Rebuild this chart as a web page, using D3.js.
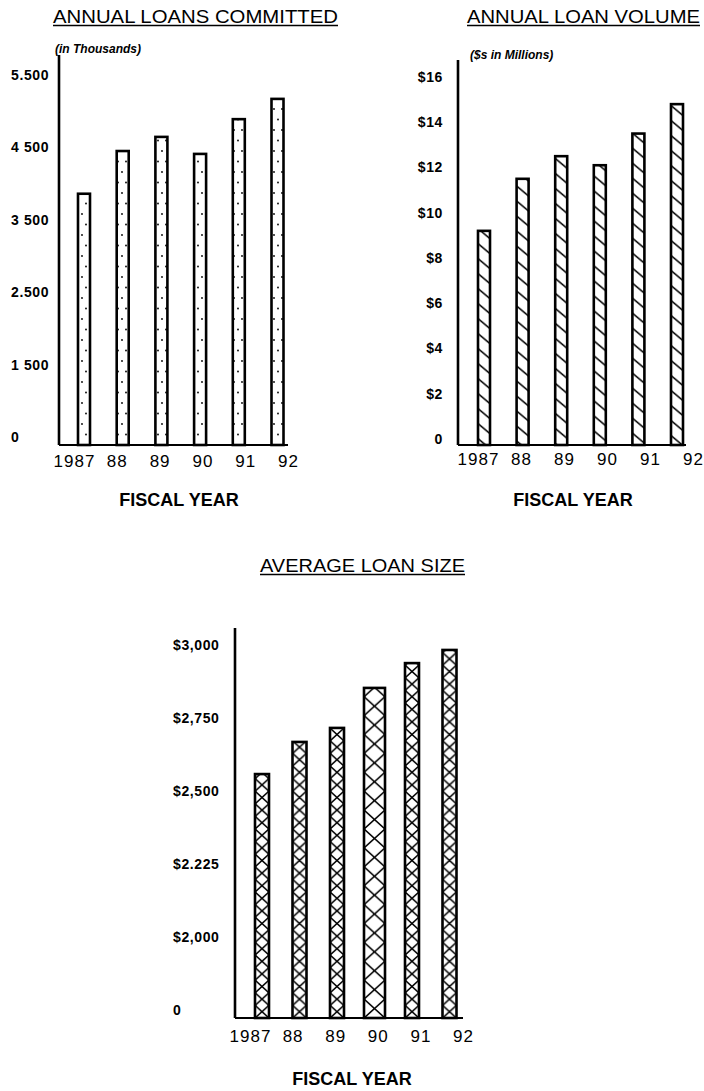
<!DOCTYPE html>
<html>
<head>
<meta charset="utf-8">
<script src="https://cdn.jsdelivr.net/npm/d3@7"></script>
<style>
  body { margin: 0; background: #fff; }
  svg { display: block; font-family: "Liberation Sans", Arial, sans-serif; }
</style>
</head>
<body>
<svg id="chart" width="704" height="1091"></svg>
<script>
// fiscal years
const years = ["1987", "88", "89", "90", "91", "92"];

// annual loans committed (thousands)
const loansCommitted = [3860, 4450, 4645, 4410, 4890, 5170];
const committedTicks = [0, 1500, 2500, 3500, 4500, 5500];
const committedTickLabels = ["0", "1 500", "2.500", "3 500", "4 500", "5.500"];

// annual loan volume ($ millions)
const loanVolume = [9.2, 11.5, 12.5, 12.1, 13.5, 14.8];
const volumeTicks = [0, 2, 4, 6, 8, 10, 12, 14, 16];
const volumeTickLabels = ["0", "$2", "$4", "$6", "$8", "$10", "$12", "$14", "$16"];

// average loan size ($)
const avgLoanSize = [2558, 2668, 2716, 2853, 2938, 2983];
const sizeTicks = [0, 2000, 2225, 2500, 2750, 3000];
const sizeTickLabels = ["0", "$2,000", "$2.225", "$2,500", "$2,750", "$3,000"];

const svg = d3.select("#chart");
const defs = svg.append("defs");

// dot fill
const dots = defs.append("pattern")
  .attr("id", "dots")
  .attr("patternUnits", "userSpaceOnUse")
  .attr("width", 8).attr("height", 21);
dots.append("circle").attr("cx", 2).attr("cy", 4).attr("r", 0.9).attr("fill", "#000");
dots.append("circle").attr("cx", 6).attr("cy", 14.5).attr("r", 0.9).attr("fill", "#000");

// diagonal hatch
defs.append("pattern")
  .attr("id", "hatch")
  .attr("patternUnits", "userSpaceOnUse")
  .attr("width", 14).attr("height", 15)
  .attr("patternTransform", "skewY(40)")
  .append("path")
  .attr("d", "M0,7.5H14")
  .attr("stroke", "#000")
  .attr("stroke-width", 2);

const charts = [
  {
    values: loansCommitted, ticks: committedTicks, tickLabels: committedTickLabels,
    title: "ANNUAL LOANS COMMITTED", titleX: 53, titleW: 285, titleY: 23,
    sub: "(in Thousands)", subX: 55, subY: 53,
    axisX: 59, axisTop: 55, base: 445, xEnd: 288,
    yZero: 437, yTop: 75,
    bars: [84, 277.5], barW: () => 12,
    labels: [74, 288], labelY: 467,
    tickX: 11, tickAnchor: "start",
    fiscalX: 179, fiscalY: 506,
    fill: () => "url(#dots)"
  },
  {
    values: loanVolume, ticks: volumeTicks, tickLabels: volumeTickLabels,
    title: "ANNUAL LOAN VOLUME", titleX: 467, titleW: 233, titleY: 23,
    sub: "($s in Millions)", subX: 470, subY: 59,
    axisX: 458, axisTop: 60, base: 445, xEnd: 686,
    yZero: 439, yTop: 77,
    bars: [484, 677], barW: () => 12,
    labels: [478, 693], labelY: 465,
    tickX: 443, tickAnchor: "end",
    fiscalX: 573, fiscalY: 506,
    fill: () => "url(#hatch)"
  },
  {
    values: avgLoanSize, ticks: sizeTicks, tickLabels: sizeTickLabels,
    title: "AVERAGE LOAN SIZE", titleX: 260, titleW: 205, titleY: 572,
    sub: null,
    axisX: 235, axisTop: 628, base: 1018, xEnd: 463,
    yZero: 1010, yTop: 645,
    bars: [262, 449.5], barW: (d, i) => (i === 3 ? 21 : 14),
    labels: [250, 463], labelY: 1042,
    tickX: 173, tickAnchor: "start",
    fiscalX: 352, fiscalY: 1085,
    fill: (d, i) => `url(#cross${i})`,
    cross: true
  }
];

charts.forEach(c => {
  const g = svg.append("g");

  // ticks are drawn evenly spaced on the page, so map them piecewise
  const step = (c.yZero - c.yTop) / (c.ticks.length - 1);
  const y = d3.scaleLinear()
    .domain(c.ticks)
    .range(c.ticks.map((t, i) => c.yZero - i * step));

  const xBar = d3.scalePoint().domain(years).range(c.bars);
  const xLab = d3.scalePoint().domain(years).range(c.labels);

  // per bar cross-hatch, one X per cell across the bar
  if (c.cross) {
    years.forEach((yr, i) => {
      const w = c.barW(null, i);
      const h = w * 0.9;
      const p = defs.append("pattern")
        .attr("id", "cross" + i)
        .attr("patternUnits", "userSpaceOnUse")
        .attr("x", xBar(yr) - w / 2).attr("y", c.base)
        .attr("width", w).attr("height", h);
      p.append("path")
        .attr("d", `M0,0L${w},${h}M${w},0L0,${h}`)
        .attr("stroke", "#000")
        .attr("stroke-width", 1.6)
        .attr("fill", "none");
    });
  }

  // title with underline
  g.append("text")
    .attr("x", c.titleX).attr("y", c.titleY)
    .attr("textLength", c.titleW)
    .attr("lengthAdjust", "spacingAndGlyphs")
    .attr("font-size", 18)
    .text(c.title);
  g.append("line")
    .attr("x1", c.titleX).attr("x2", c.titleX + c.titleW)
    .attr("y1", c.titleY + 2.5).attr("y2", c.titleY + 2.5)
    .attr("stroke", "#000").attr("stroke-width", 1.5);

  if (c.sub) {
    g.append("text")
      .attr("x", c.subX).attr("y", c.subY)
      .attr("font-size", 12)
      .attr("font-style", "italic")
      .attr("font-weight", "bold")
      .text(c.sub);
  }

  // bars
  g.selectAll("rect.bar")
    .data(c.values)
    .join("rect")
    .attr("class", "bar")
    .attr("x", (d, i) => xBar(years[i]) - c.barW(d, i) / 2)
    .attr("y", d => y(d))
    .attr("width", (d, i) => c.barW(d, i))
    .attr("height", d => c.base - y(d))
    .attr("fill", c.fill)
    .attr("stroke", "#000")
    .attr("stroke-width", 2.6);

  // axis lines
  g.append("line")
    .attr("x1", c.axisX).attr("x2", c.axisX)
    .attr("y1", c.axisTop).attr("y2", c.base)
    .attr("stroke", "#000").attr("stroke-width", 2.6);
  g.append("line")
    .attr("x1", c.axisX).attr("x2", c.xEnd)
    .attr("y1", c.base).attr("y2", c.base)
    .attr("stroke", "#000").attr("stroke-width", 2.2);

  // y tick labels
  const yAxis = g.append("g")
    .attr("transform", `translate(${c.tickX},0)`)
    .call(d3.axisLeft(y)
      .tickValues(c.ticks)
      .tickFormat((d, i) => c.tickLabels[i])
      .tickSize(0).tickPadding(0));
  yAxis.select(".domain").remove();
  yAxis.selectAll("text")
    .attr("x", 0)
    .attr("text-anchor", c.tickAnchor)
    .attr("font-size", 14)
    .attr("font-weight", "bold")
    .attr("letter-spacing", 0.6)
    .attr("fill", "#000")
    .attr("font-family", "'Liberation Sans', Arial, sans-serif");

  // x tick labels
  const xAxis = g.append("g")
    .attr("transform", `translate(0,${c.labelY})`)
    .call(d3.axisBottom(xLab).tickSize(0).tickPadding(0));
  xAxis.select(".domain").remove();
  xAxis.selectAll("text")
    .attr("y", 0).attr("dy", 0)
    .attr("font-size", 17)
    .attr("letter-spacing", 1)
    .attr("fill", "#000")
    .attr("font-family", "'Liberation Sans', Arial, sans-serif");

  g.append("text")
    .attr("x", c.fiscalX).attr("y", c.fiscalY)
    .attr("text-anchor", "middle")
    .attr("font-size", 18)
    .attr("font-weight", "bold")
    .text("FISCAL YEAR");
});
</script>
</body>
</html>
